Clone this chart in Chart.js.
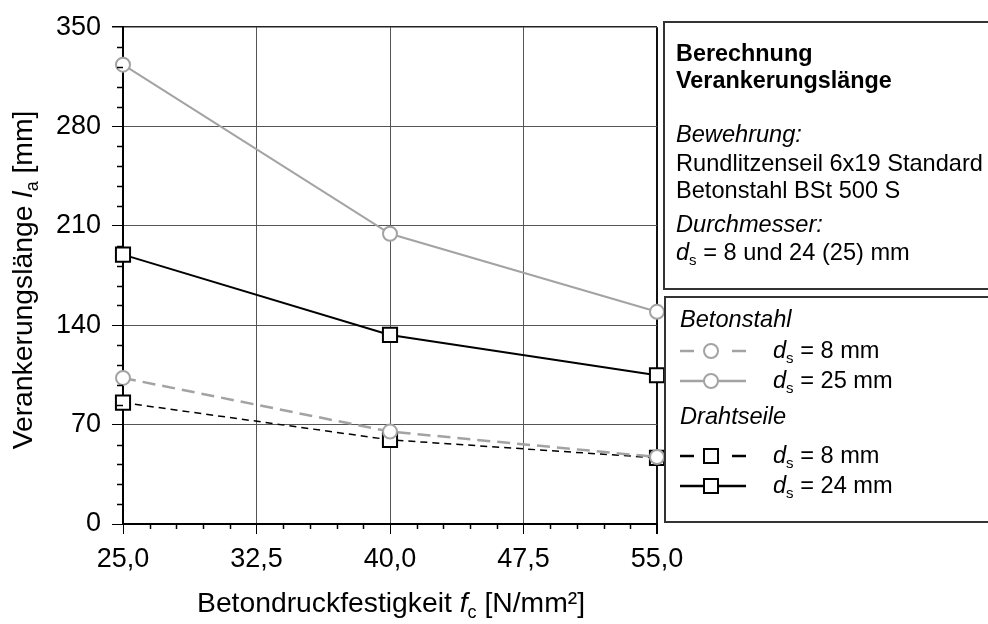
<!DOCTYPE html>
<html>
<head>
<meta charset="utf-8">
<script src="https://cdn.jsdelivr.net/npm/chart.js@4/dist/chart.umd.min.js"></script>
<style>
html,body{margin:0;padding:0;background:#fff;}
#wrap{width:988px;height:624px;position:relative;}
</style>
</head>
<body>
<div id="wrap"><canvas id="grafico" width="988" height="624"></canvas></div>
<script>
// Betondruckfestigkeit fc [N/mm²]
var festigkeit = [25, 40, 55];
// Verankerungslänge la [mm]
var stahl_8 = [102.9, 65.1, 47.2];
var stahl_25 = [323.6, 204.5, 149.5];
var seil_8 = [85.5, 59.3, 46.6];
var seil_24 = [189.8, 133.2, 104.8];
// ticks
var x_ticks = [25, 32.5, 40, 47.5, 55];
var y_ticks = [0, 70, 140, 210, 280, 350];

var FONT = '"Liberation Sans", Arial, sans-serif';
var GRIS = '#a3a3a3';

function puntos(vals){
	var r = [];
	for (var i = 0; i < festigkeit.length; i++) r.push({x: festigkeit[i], y: vals[i]});
	return r;
}

// dibuja texto con partes (normal / kursiv / tiefgestellt)
function texto(ctx, partes, x, y, align){
	var total = 0;
	for (var i = 0; i < partes.length; i++){
		ctx.font = partes[i].f;
		partes[i].w = ctx.measureText(partes[i].t).width;
		total += partes[i].w;
	}
	var px = align === 'center' ? x - total / 2 : x;
	ctx.textAlign = 'left';
	ctx.textBaseline = 'alphabetic';
	for (var i = 0; i < partes.length; i++){
		ctx.font = partes[i].f;
		ctx.fillText(partes[i].t, px, y + (partes[i].dy || 0));
		px += partes[i].w;
	}
}

function linea(ctx, x1, y1, x2, y2){
	ctx.beginPath(); ctx.moveTo(x1, y1); ctx.lineTo(x2, y2); ctx.stroke();
}

var extras = {
	id: 'extras',
	afterDraw: function(chart){
		var ctx = chart.ctx, xs = chart.scales.x, ys = chart.scales.y, a = chart.chartArea;
		ctx.save();
		// minor ticks
		ctx.strokeStyle = '#000'; ctx.lineWidth = 1.5;
		for (var i = 1; i < 25; i++){
			if (i % 5 === 0) continue;
			var py = Math.round(ys.getPixelForValue(i * 14)) + 0.5;
			linea(ctx, a.left - 6, py, a.left, py);
		}
		for (var i = 1; i < 20; i++){
			if (i % 5 === 0) continue;
			var px = Math.round(xs.getPixelForValue(25 + i * 1.5)) + 0.5;
			linea(ctx, px, a.bottom, px, a.bottom + 5);
		}

		// achsentitel
		ctx.fillStyle = '#000';
		var n = '28.3px ' + FONT, it = 'italic 28.3px ' + FONT, sub = '18px ' + FONT;
		texto(ctx, [{t:'Betondruckfestigkeit ', f:n}, {t:'f', f:it}, {t:'c', f:sub, dy:6}, {t:' [N/mm²]', f:n}], 391, 612, 'center');
		ctx.save();
		ctx.translate(32, 280);
		ctx.rotate(-Math.PI / 2);
		texto(ctx, [{t:'Verankerungslänge ', f:n}, {t:'l', f:it}, {t:'a', f:sub, dy:6}, {t:' [mm]', f:n}], 0, 0, 'center');
		ctx.restore();

		// cajas
		ctx.strokeStyle = '#333'; ctx.lineWidth = 2;
		ctx.fillStyle = '#fff';
		ctx.fillRect(664, 22, 330, 267);
		ctx.strokeRect(664, 22, 330, 267);
		ctx.fillRect(665, 297, 330, 225);
		ctx.strokeRect(665, 297, 330, 225);

		var bn = '23.6px ' + FONT, bb = 'bold 23.4px ' + FONT, bi = 'italic 23.6px ' + FONT, bs = '15px ' + FONT;
		ctx.fillStyle = '#000';
		texto(ctx, [{t:'Berechnung', f:bb}], 676, 61);
		texto(ctx, [{t:'Verankerungslänge', f:bb}], 676, 88);
		texto(ctx, [{t:'Bewehrung:', f:bi}], 676, 142);
		texto(ctx, [{t:'Rundlitzenseil 6x19 Standard', f:bn}], 676, 171);
		texto(ctx, [{t:'Betonstahl BSt 500 S', f:bn}], 676, 198);
		texto(ctx, [{t:'Durchmesser:', f:bi}], 676, 232);
		texto(ctx, [{t:'d', f:bi}, {t:'s', f:bs, dy:5}, {t:' = 8 und 24 (25) mm', f:bn}], 676, 260);

		// legende
		texto(ctx, [{t:'Betonstahl', f:bi}], 680, 327);
		texto(ctx, [{t:'Drahtseile', f:bi}], 680, 424);
		var filas = [
			{y:351, lab:'8', color:GRIS, dash:true, forma:'c'},
			{y:381, lab:'25', color:GRIS, dash:false, forma:'c'},
			{y:456, lab:'8', color:'#000', dash:true, forma:'r'},
			{y:486, lab:'24', color:'#000', dash:false, forma:'r'}
		];
		for (var i = 0; i < filas.length; i++){
			var f = filas[i];
			ctx.strokeStyle = f.color; ctx.lineWidth = 2.5;
			if (f.dash){
				linea(ctx, 680, f.y, 694, f.y);
				linea(ctx, 732, f.y, 746, f.y);
			} else {
				linea(ctx, 680, f.y, 746, f.y);
			}
			ctx.fillStyle = '#fff'; ctx.lineWidth = 2;
			ctx.beginPath();
			if (f.forma === 'c') ctx.arc(711, f.y, 7, 0, Math.PI * 2);
			else ctx.rect(704, f.y - 7, 14, 14);
			ctx.fill(); ctx.stroke();
			ctx.fillStyle = '#000';
			texto(ctx, [{t:'d', f:bi}, {t:'s', f:bs, dy:5}, {t:' = ' + f.lab + ' mm', f:bn}], 773, f.y + 7);
		}
		ctx.restore();
	}
};

new Chart(document.getElementById('grafico'), {
	type: 'line',
	data: {
		datasets: [
			{
				label: 'Betonstahl ds = 25 mm',
				data: puntos(stahl_25),
				borderColor: GRIS, borderWidth: 2,
				pointStyle: 'circle', pointRadius: 7, pointBorderWidth: 2,
				pointBackgroundColor: '#fff', pointBorderColor: GRIS,
				order: 1, clip: false
			},
			{
				label: 'Betonstahl ds = 8 mm',
				data: puntos(stahl_8),
				borderColor: GRIS, borderWidth: 2.5, borderDash: [13, 7],
				pointStyle: 'circle', pointRadius: 7, pointBorderWidth: 2,
				pointBackgroundColor: '#fff', pointBorderColor: GRIS,
				order: 2, clip: false
			},
			{
				label: 'Drahtseile ds = 24 mm',
				data: puntos(seil_24),
				borderColor: '#000', borderWidth: 2,
				pointStyle: 'rect', pointRadius: 10, pointBorderWidth: 2,
				pointBackgroundColor: '#fff', pointBorderColor: '#000',
				order: 3, clip: false
			},
			{
				label: 'Drahtseile ds = 8 mm',
				data: puntos(seil_8),
				borderColor: '#000', borderWidth: 1.5, borderDash: [7, 5],
				pointStyle: 'rect', pointRadius: 10, pointBorderWidth: 2,
				pointBackgroundColor: '#fff', pointBorderColor: '#000',
				order: 4, clip: false
			}
		]
	},
	options: {
		responsive: false,
		animation: false,
		devicePixelRatio: 1,
		layout: {padding: {top: 22, right: 331, left: 0, bottom: 0}},
		plugins: {legend: {display: false}, tooltip: {enabled: false}, title: {display: false}},
		elements: {line: {tension: 0}},
		scales: {
			x: {
				type: 'linear', min: 25, max: 55,
				afterBuildTicks: function(s){ s.ticks = x_ticks.map(function(v){ return {value: v}; }); },
				afterFit: function(s){ s.height = 100; },
				border: {color: '#000', width: 2},
				grid: {
					color: function(c){ return c.tick && c.tick.value === 55 ? '#111' : '#555'; },
					lineWidth: function(c){ return c.tick && c.tick.value === 55 ? 2 : 1; },
					tickLength: 10, tickColor: '#000'
				},
				ticks: {
					color: '#000', padding: 9, maxRotation: 0,
					font: {family: FONT, size: 27},
					callback: function(v){ return v.toFixed(1).replace('.', ','); }
				}
			},
			y: {
				min: 0, max: 350,
				afterBuildTicks: function(s){ s.ticks = y_ticks.map(function(v){ return {value: v}; }); },
				afterFit: function(s){ s.width = 123; },
				border: {color: '#000', width: 2},
				grid: {
					color: function(c){ return c.tick && c.tick.value === 350 ? '#222' : '#555'; },
					lineWidth: function(c){ return c.tick && c.tick.value === 350 ? 1.5 : 1; },
					tickLength: 11, tickColor: '#000'
				},
				ticks: {
					color: '#000', padding: 11,
					font: {family: FONT, size: 27},
					callback: function(v){ return String(v); }
				}
			}
		}
	},
	plugins: [extras]
});
</script>
</body>
</html>
